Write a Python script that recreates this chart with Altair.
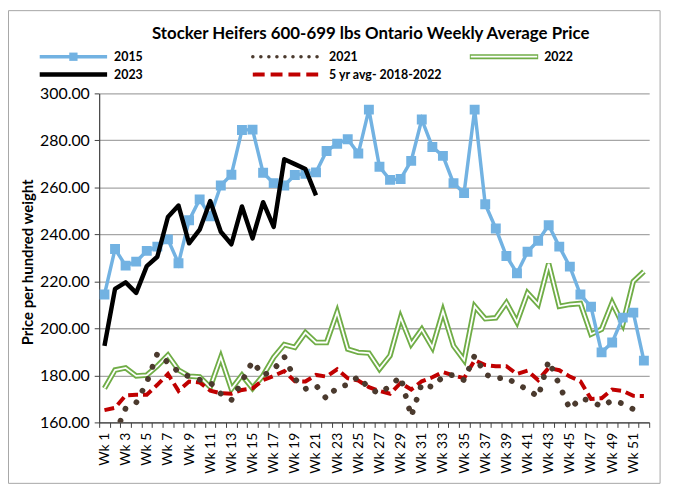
import altair as alt
import pandas as pd

# ---------------- data ----------------
WEEKS = list(range(1, 53))
WEEK_BOUNDS = [w + 0.5 for w in range(0, 53)]
Y_TICKS = [160, 180, 200, 220, 240, 260, 280, 300]
SERIES = ["2015", "2021", "2022", "2023", "5 yr avg- 2018-2022"]
TITLE = "Stocker Heifers 600-699 lbs Ontario Weekly Average Price"
Y_TITLE = "Price per hundred weight"

P2015 = [214.4, 233.8, 226.7, 228.4, 233.0, 234.8, 237.9, 227.7, 246.0, 254.9,
         247.7, 260.8, 265.4, 284.4, 284.6, 266.2, 261.8, 260.8, 265.3, 265.8,
         266.4, 275.5, 278.6, 280.5, 274.4, 293.1, 268.8, 263.2, 263.6, 271.3,
         288.9, 277.2, 273.4, 261.8, 257.6, 293.1, 252.8, 242.5, 230.8, 223.5,
         232.6, 237.3, 243.9, 234.8, 226.3, 214.4, 209.2, 189.8, 194.0, 204.6,
         206.7, 186.3]
P2021 = [157.0, 155.0, 166.0, 168.4, 177.0, 189.3, 185.5, 181.5, 179.5, 178.2,
         177.0, 172.2, 169.5, 177.5, 186.0, 180.0, 182.5, 188.0, 178.5, 174.3,
         175.8, 170.0, 175.0, 176.0, 179.5, 174.5, 172.3, 175.5, 179.5, 162.5,
         176.5, 175.0, 179.5, 180.2, 178.0, 188.5, 180.5, 178.5, 179.3, 176.0,
         174.2, 170.8, 186.3, 176.0, 165.6, 170.3, 169.1, 166.7, 169.4, 168.0,
         165.6, None]
P2022 = [174.5, 182.3, 183.2, 179.8, 180.1, 184.0, 188.6, 182.3, 179.7, 179.4,
         175.0, 187.7, 174.2, 180.1, 174.5, 180.0, 187.7, 193.1, 191.9, 198.2,
         194.0, 194.0, 206.9, 191.2, 189.8, 189.5, 182.7, 188.4, 204.6, 193.3,
         199.6, 191.9, 207.3, 192.6, 186.5, 209.4, 204.1, 204.5, 210.9, 202.7,
         215.1, 210.2, 227.5, 209.4, 210.2, 210.6, 197.5, 199.6, 210.9, 201.7,
         220.0, 224.2]
P2023 = [192.6, 216.8, 219.6, 215.1, 226.5, 230.5, 247.4, 252.3, 236.2, 242.0,
         254.2, 241.1, 235.8, 251.9, 238.3, 253.7, 243.2, 272.0, 269.9, 267.8,
         256.6]
AVG5 = [165.2, 166.2, 171.5, 171.8, 171.8, 176.0, 180.6, 173.4, 177.4, 177.0,
        173.5, 172.4, 172.2, 173.8, 174.5, 178.0, 179.8, 181.8, 177.5, 177.4,
        180.2, 179.5, 182.6, 178.8, 177.8, 175.0, 173.4, 172.2, 176.8, 174.0,
        177.5, 179.2, 181.4, 180.0, 178.8, 186.5, 184.4, 183.9, 183.9, 180.6,
        182.0, 178.0, 183.2, 182.2, 179.5, 177.5, 170.0, 170.3, 174.0, 173.4,
        171.3, 171.2]

rows = []
for name, vals in zip(SERIES, [P2015, P2021, P2022, P2023, AVG5]):
    for w, v in zip(WEEKS, vals):
        if v is not None:
            rows.append({"week": w, "price": v, "series": name})
df = pd.DataFrame(rows)

# ---------------- styles ----------------
BLUE = "#72B2E2"
BROWN = "#4B3A2E"
GREEN = "#70AD47"
RED = "#C00000"
FONT = "Lato"
AXIS_COL = "#404040"

x_axis = alt.Axis(
    values=sorted(WEEKS + WEEK_BOUNDS),
    labelExpr="datum.value % 2 == 1 ? 'Wk ' + datum.value : ''",
    labelAngle=-90, labelFont=FONT, labelFontSize=14, labelColor="black",
    labelOverlap=False, labelFlush=False, labelPadding=5,
    tickOpacity={"condition": {"test": "datum.value % 1 == 0", "value": 0}, "value": 1},
    tickSize=5, tickColor=AXIS_COL, tickWidth=1,
    domainColor=AXIS_COL, domainWidth=1.2, grid=False, title=None,
)
y_axis = alt.Axis(
    values=Y_TICKS, format=".2f", labelFont=FONT, labelFontSize=16,
    labelColor="black", labelPadding=5, tickSize=5, tickColor=AXIS_COL,
    domainColor=AXIS_COL, domainWidth=1.2, grid=True, gridColor="#A6A6A6",
    gridWidth=1.3, title=Y_TITLE, titleFont=FONT, titleFontSize=15,
    titleFontWeight="bold", titleColor="black", titleX=-72, titleY=170,
    titleAngle=-90, titleAlign="center", titleBaseline="middle",
)

base = alt.Chart(df).encode(
    x=alt.X("week:Q", scale=alt.Scale(domain=[0.5, 52.5], nice=False, zero=False), axis=x_axis),
    y=alt.Y("price:Q", scale=alt.Scale(domain=[160, 300], nice=False, zero=False), axis=y_axis),
)

def sel(name):
    return base.transform_filter(alt.datum.series == name)

l2015 = sel(SERIES[0]).mark_line(color=BLUE, strokeWidth=3.5, clip=True)
p2015 = sel(SERIES[0]).mark_point(shape="square", size=100, filled=True, color=BLUE, opacity=1, clip=True)
l2021 = sel(SERIES[1]).mark_line(color=BROWN, strokeWidth=5.8, strokeDash=[0.1, 13], strokeCap="round", clip=True)
l2022a = sel(SERIES[2]).mark_line(color=GREEN, strokeWidth=5.5, strokeJoin="miter", clip=True)
l2022b = sel(SERIES[2]).mark_line(color="white", strokeWidth=1.8, strokeJoin="miter", clip=True)
l2023 = sel(SERIES[3]).mark_line(color="black", strokeWidth=4.5, strokeJoin="round", clip=True)
lavg = sel(SERIES[4]).mark_line(color=RED, strokeWidth=4, strokeDash=[10, 5], clip=True)

# ---------------- decorations (title, legend, frame) ----------------
one = pd.DataFrame({"k": [0]})

def rule(x1, x2, y, **kw):
    return alt.Chart(one).mark_rule(**kw).encode(x=alt.value(x1), x2=alt.value(x2), y=alt.value(y))

def label(x, y, txt, **kw):
    style = dict(align="left", baseline="middle", font=FONT, fontSize=12.5, fontWeight="bold", color="black")
    style.update(kw)
    return alt.Chart(one).mark_text(**style).encode(x=alt.value(x), y=alt.value(y), text=alt.value(txt))

R1, R2 = -37, -19
legend = [
    rule(-60, 8, R1, color=BLUE, strokeWidth=3.5),
    alt.Chart(one).mark_point(shape="square", size=70, filled=True, color=BLUE, opacity=1).encode(
        x=alt.value(-26), y=alt.value(R1)),
    label(15, R1, SERIES[0]),
    rule(155, 223, R1, color=BROWN, strokeWidth=3.5, strokeDash=[0.1, 8], strokeCap="round"),
    label(232, R1, SERIES[1]),
    rule(374, 443, R1, color=GREEN, strokeWidth=5),
    rule(375, 442, R1, color="white", strokeWidth=1.8),
    label(449, R1, SERIES[2]),
    rule(-60, 8, R2, color="black", strokeWidth=4.5),
    label(15, R2, SERIES[3]),
    rule(155, 223, R2, color=RED, strokeWidth=4, strokeDash=[12, 6]),
    label(232, R2, SERIES[4]),
]
title = label(274, -60, TITLE, align="center", fontSize=17)
frame = alt.Chart(one).mark_rect(fill=None, stroke="#A6A6A6", strokeWidth=1).encode(
    x=alt.value(-91.5), x2=alt.value(566), y=alt.value(-83.5), y2=alt.value(393.5))

chart = alt.layer(
    frame, l2022a, l2022b, lavg, l2021, l2015, p2015, l2023, title, *legend
).properties(
    width=555, height=332,
    padding={"left": 92, "top": 84, "right": 20, "bottom": 62},
    autosize=alt.AutoSizeParams(type="none"),
    background="white",
).configure_view(stroke=None)

chart.save("out.html", embed_options={"renderer": "svg", "actions": False})
